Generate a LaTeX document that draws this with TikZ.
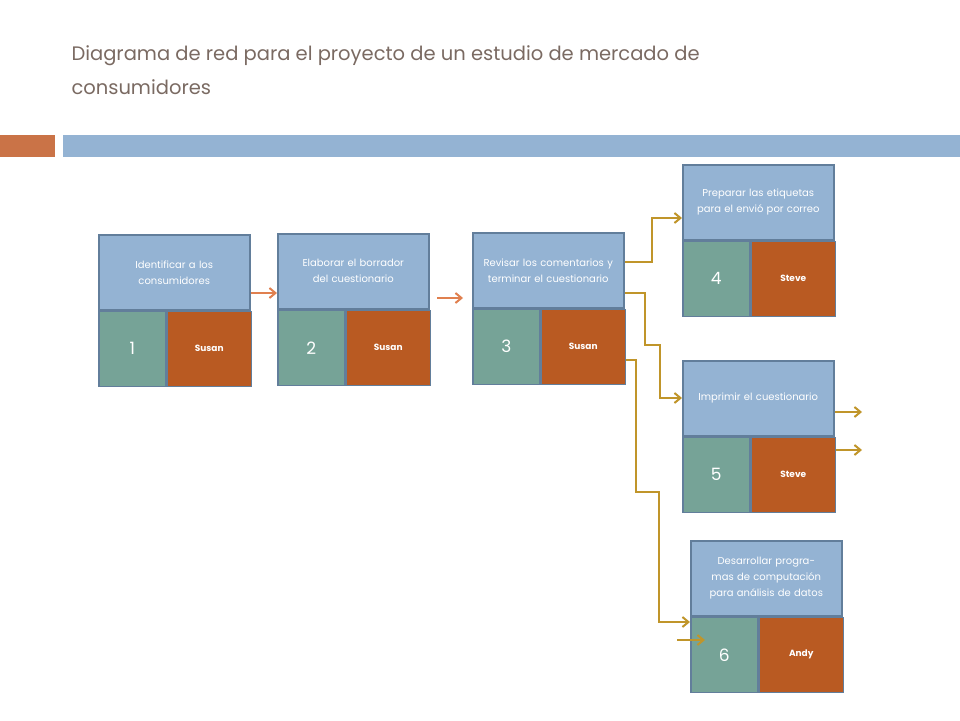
\documentclass[tikz,border=0pt]{standalone}
\usepackage{fontspec}
\setmainfont{Poppins}
\usetikzlibrary{positioning,arrows.meta}
\definecolor{boxblue}{HTML}{94B3D3}
\definecolor{boxgreen}{HTML}{76A397}
\definecolor{boxorange}{HTML}{B95A22}
\definecolor{edge}{HTML}{627E9B}
\definecolor{gold}{HTML}{C0952A}
\definecolor{salmon}{HTML}{E0804F}
\definecolor{titlegray}{HTML}{7A6A62}
\begin{document}
\begin{tikzpicture}[x=1pt,y=-1pt]
    \tikzstyle{task}=[draw=edge, line width=1.5pt, fill=boxblue, minimum width=151pt, minimum height=75pt, inner sep=2pt, text width=130pt, align=center, text=white, font=\fontsize{10}{16}\selectfont, anchor=north west]
    \tikzstyle{num}=[draw=edge, line width=1.5pt, fill=boxgreen, minimum width=67pt, minimum height=75pt, text=white, font=\fontsize{17}{17}\selectfont, anchor=north west]
    \tikzstyle{who}=[draw=edge, line width=1.5pt, fill=boxorange, minimum width=84pt, minimum height=75pt, text=white, font=\fontsize{9}{9}\selectfont\bfseries, anchor=north west]
    \tikzstyle{link}=[draw=gold, line width=2pt, -{Straight Barb[length=6pt,width=10pt]}]
    \useasboundingbox (0,0) rectangle (960,720);
    % title and header bars
    \node[anchor=north west, text=titlegray, align=left, font=\fontsize{19.5}{34}\selectfont] (title) at (68,42) {Diagrama de red para el proyecto de un estudio de mercado de\\consumidores};
    \fill[salmon!90!black] (0,135) rectangle (55,157);
    \fill[boxblue] (63,135) rectangle (960,157);
    % activities
    \node[task] (t1) at (98,234) {Identificar a los consumidores};
    \node[num] (n1) at (t1.south west) {1};
    \node[who] (w1) at (n1.north east) {Susan};
    \node[task] (t2) at (277,233) {Elaborar el borrador del cuestionario};
    \node[num] (n2) at (t2.south west) {2};
    \node[who] (w2) at (n2.north east) {Susan};
    \node[task] (t3) at (472,232) {Revisar los comentarios y terminar el cuestionario};
    \node[num] (n3) at (t3.south west) {3};
    \node[who] (w3) at (n3.north east) {Susan};
    \node[task] (t4) at (682,164) {Preparar las etiquetas para el envió por correo};
    \node[num] (n4) at (t4.south west) {4};
    \node[who] (w4) at (n4.north east) {Steve};
    \node[task] (t5) at (682,360) {Imprimir el cuestionario};
    \node[num] (n5) at (t5.south west) {5};
    \node[who] (w5) at (n5.north east) {Steve};
    \node[task] (t6) at (690,540) {Desarrollar programas de computación para análisis de datos};
    \node[num] (n6) at (t6.south west) {6};
    \node[who] (w6) at (n6.north east) {Andy};
    % free ends
    \coordinate (a2s) at (437,298);
    \coordinate (a2e) at (463,298);
    \coordinate (s6) at (677,640);
    \coordinate (e6) at (705,640);
    \coordinate (o1) at (862,412);
    \coordinate (o2) at (862,450);
    % connectors
    \draw[link, draw=salmon] (t1.east |- 0,293) -- (t2.west |- 0,293);
    \draw[link, draw=salmon] (a2s) -- (a2e);
    \draw[link] (t3.east |- 0,262) -| (652,218) -- (t4.west |- 0,218);
    \draw[link] (t3.east |- 0,293) -| (645,345) -| (660,398) -- (t5.west |- 0,398);
    \draw[link] (w3.east |- 0,360) -| (636,492) -| (659,622) -- (t6.west |- 0,622);
    \draw[link] (s6) -- (e6);
    \draw[link] (t5.east |- 0,412) -- (o1);
    \draw[link] (w5.east |- 0,450) -- (o2);
\end{tikzpicture}
\end{document}
